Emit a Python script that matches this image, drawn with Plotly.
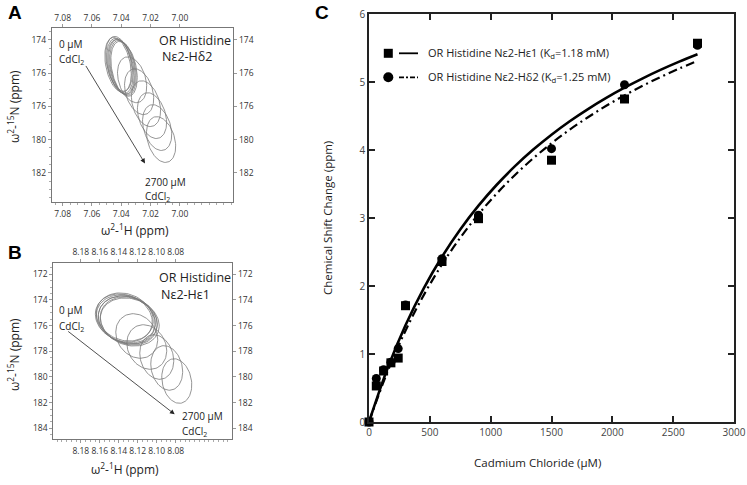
import numpy as np
import plotly.graph_objects as go

W, H = 747, 485
OFF = 0

# ---------------- Panel C data ----------------
conc = [0, 60, 120, 180, 240, 300, 600, 900, 1500, 2100, 2700]
he1_shift = [0, 0.53, 0.75, 0.87, 0.94, 1.71, 2.36, 2.99, 3.85, 4.75, 5.57]
hd2_shift = [0, 0.64, 0.77, 0.88, 1.08, 1.72, 2.40, 3.04, 4.02, 4.96, 5.54]

fit_x = [0, 150, 300, 450, 600, 750, 900, 1050, 1200, 1350, 1500, 1650, 1800, 1950, 2100, 2250, 2400, 2550, 2700]
fit_he1 = [0, 0.778, 1.423, 1.966, 2.430, 2.831, 3.181, 3.489, 3.762, 4.006, 4.225, 4.423, 4.602, 4.766, 4.916, 5.054, 5.181, 5.299, 5.408]
fit_hd2 = [0, 0.730, 1.343, 1.866, 2.317, 2.709, 3.055, 3.360, 3.633, 3.878, 4.099, 4.300, 4.482, 4.650, 4.803, 4.945, 5.076, 5.197, 5.310]

legend_labels = ["OR Histidine N\u03b52-H\u03b51 (K<sub>d</sub>=1.18 mM)",
                 "OR Histidine N\u03b52-H\u03b42 (K<sub>d</sub>=1.25 mM)"]

# ---------------- Panel A data (N\u03b52-H\u03b42 peak contours) ----------------
A_H = [7.0422, 7.0409, 7.0402, 7.0395, 7.0388, 7.0415, 7.0381,
       7.0326, 7.0278, 7.0231, 7.0190, 7.0155, 7.0128]
A_N = [175.50, 175.56, 175.62, 175.62, 175.68, 175.44, 175.74,
       176.40, 177.12, 177.84, 178.56, 179.28, 180.00]
A_aH = [0.0085] * 7 + [0.0095] * 6
A_aN = [1.65] * 7 + [1.38] * 6
A_x_ticks = [7.08, 7.06, 7.04, 7.02, 7.00]
A_y_ticks = [174, 176, 178, 180, 182]
A_y_text = ["174", "176", "176", "180", "182"]

# ---------------- Panel B data (N\u03b52-H\u03b51 peak contours) ----------------
B_H = [8.1347, 8.1326, 8.1316, 8.1305, 8.1295, 8.1284, 8.1337,
       8.1211, 8.1105, 8.1000, 8.0895, 8.0789]
B_N = [175.41, 175.48, 175.56, 175.56, 175.64, 175.72, 175.33,
       176.81, 177.67, 178.45, 179.30, 180.32]
B_aH = [0.030, 0.031, 0.030, 0.031, 0.030, 0.031, 0.030,
        0.0221, 0.0210, 0.0179, 0.0168, 0.0158]
B_aN = [1.85] * 7 + [1.71] * 5
B_x_ticks = [8.18, 8.16, 8.14, 8.12, 8.10, 8.08]
B_y_ticks = [172, 174, 176, 178, 180, 182, 184]

FONT = "Open Sans"


def px(x, y):
    return (x - OFF) / W, 1 - (y - OFF) / H


def dx(a, b):
    return [(a - OFF) / W, (b - OFF) / W]


def dy(top, bottom):
    return [1 - (bottom - OFF) / H, 1 - (top - OFF) / H]


fig = go.Figure()

t = np.linspace(0, 2 * np.pi, 90)


def add_ellipses(Hc, Nc, aH, aN, sH, sN, xa, ya):
    for h, n, a, b in zip(Hc, Nc, aH, aN):
        fig.add_trace(go.Scatter(
            x=h + a * np.cos(t) + sH * np.sin(t),
            y=n + b * np.sin(t) + sN * np.cos(t),
            mode="lines", line=dict(color="#7a7a7a", width=0.8),
            xaxis=xa, yaxis=ya, showlegend=False, hoverinfo="skip"))


add_ellipses(A_H, A_N, A_aH, A_aN, -0.003, 0.0, "x", "y")
add_ellipses(B_H, B_N, B_aH, B_aN, 0.0, -0.3, "x3", "y3")

# invisible traces to activate mirrored label axes
fig.add_trace(go.Scatter(x=[A_H[0]], y=[A_N[0]], xaxis="x2", yaxis="y2", mode="markers",
                         marker=dict(opacity=0), showlegend=False, hoverinfo="skip"))
fig.add_trace(go.Scatter(x=[B_H[0]], y=[B_N[0]], xaxis="x4", yaxis="y4", mode="markers",
                         marker=dict(opacity=0), showlegend=False, hoverinfo="skip"))

# Panel C fits
fig.add_trace(go.Scatter(x=fit_x, y=fit_he1, mode="lines", line=dict(color="black", width=2.6, shape="spline"),
                         xaxis="x5", yaxis="y5", showlegend=False, hoverinfo="skip"))
fig.add_trace(go.Scatter(x=fit_x, y=fit_hd2, mode="lines",
                         line=dict(color="black", width=2.2, dash="9px,4px,2px,4px", shape="spline"),
                         xaxis="x5", yaxis="y5", showlegend=False, hoverinfo="skip"))
fig.add_trace(go.Scatter(x=conc, y=hd2_shift, mode="markers", marker=dict(symbol="circle", size=9, color="black"),
                         xaxis="x5", yaxis="y5", showlegend=False, cliponaxis=False))
fig.add_trace(go.Scatter(x=conc, y=he1_shift, mode="markers", marker=dict(symbol="square", size=9, color="black"),
                         xaxis="x5", yaxis="y5", showlegend=False, cliponaxis=False))

nmr_tick = dict(size=8.5, color="#333", family=FONT)
common_nmr = dict(showgrid=False, zeroline=False, ticks="outside", ticklen=3, tickcolor="#999",
                  tickfont=nmr_tick, fixedrange=True, automargin=False, tickangle=0)

A_xr = [7.0875, 6.9635]
A_yr = [183.78, 173.3]
A_xd = dx(51.7, 233.3)
A_yd = dy(28.3, 202.3)
B_xr = [8.209, 8.0204]
B_yr = [184.86, 171.1]
B_xd = dx(53.3, 232.3)
B_yd = dy(262.7, 439.3)

fig.update_layout(
    xaxis=dict(domain=A_xd, range=A_xr, anchor="y", tickvals=A_x_ticks, ticktext=[f"{v:.2f}" for v in A_x_ticks],
               showline=True, linecolor="#777", linewidth=1, mirror=True,
               minor=dict(ticks="outside", ticklen=2, tickcolor="#aaa", dtick=0.005), **common_nmr),
    yaxis=dict(domain=A_yd, range=A_yr, anchor="x", tickvals=A_y_ticks, ticktext=A_y_text,
               showline=True, linecolor="#777", linewidth=1, mirror=True,
               minor=dict(ticks="outside", ticklen=2, tickcolor="#aaa", dtick=0.5), **common_nmr),
    xaxis2=dict(range=A_xr, overlaying="x", anchor="y", side="top", tickvals=A_x_ticks,
                ticktext=[f"{v:.2f}" for v in A_x_ticks], showline=False, **common_nmr),
    yaxis2=dict(range=A_yr, overlaying="y", anchor="x", side="right", tickvals=A_y_ticks,
                ticktext=A_y_text, showline=False, **common_nmr),
    xaxis3=dict(domain=B_xd, range=B_xr, anchor="y3", tickvals=B_x_ticks, ticktext=[f"{v:.2f}" for v in B_x_ticks],
                showline=True, linecolor="#777", linewidth=1, mirror=True,
                minor=dict(ticks="outside", ticklen=2, tickcolor="#aaa", dtick=0.005), **common_nmr),
    yaxis3=dict(domain=B_yd, range=B_yr, anchor="x3", tickvals=B_y_ticks, ticktext=[str(v) for v in B_y_ticks],
                showline=True, linecolor="#777", linewidth=1, mirror=True,
                minor=dict(ticks="outside", ticklen=2, tickcolor="#aaa", dtick=0.5), **common_nmr),
    xaxis4=dict(range=B_xr, overlaying="x3", anchor="y3", side="top", tickvals=B_x_ticks,
                ticktext=[f"{v:.2f}" for v in B_x_ticks], showline=False, **common_nmr),
    yaxis4=dict(range=B_yr, overlaying="y3", anchor="x3", side="right", tickvals=B_y_ticks,
                ticktext=[str(v) for v in B_y_ticks], showline=False, **common_nmr),
    xaxis5=dict(domain=dx(369, 734), range=[0, 3000], anchor="y5", dtick=500, ticks="inside", ticklen=6,
                tickcolor="#222", tickwidth=1.5, showline=True, linecolor="#222", linewidth=1.6, mirror="ticks",
                showgrid=False, zeroline=False, tickfont=dict(size=10, color="#444", family=FONT),
                fixedrange=True, automargin=False),
    yaxis5=dict(domain=dy(14, 422), range=[0, 6], anchor="x5", dtick=1, ticks="inside", ticklen=6,
                tickcolor="#222", tickwidth=1.5, showline=True, linecolor="#222", linewidth=1.6, mirror="ticks",
                showgrid=False, zeroline=False, tickfont=dict(size=10, color="#444", family=FONT),
                fixedrange=True, automargin=False),
)

ann = []


def text(x, y, s, size=11, xanchor="left", color="#222", angle=0, bold=False, family=FONT):
    xx, yy = px(x, y)
    ann.append(dict(x=xx, y=yy, xref="paper", yref="paper", text=f"<b>{s}</b>" if bold else s,
                    showarrow=False, xanchor=xanchor, yanchor="middle", textangle=angle,
                    font=dict(size=size, color=color, family=family)))


# Panel labels
text(6, 12, "A", size=19, bold=True, family="Liberation Sans", color="black")
text(6, 252, "B", size=19, bold=True, family="Liberation Sans", color="black")
text(313, 12, "C", size=19, bold=True, family="Liberation Sans", color="black")

# Panel A texts
text(157, 40, "OR Histidine", size=12.5)
text(160, 56, "N\u03b52-H\u03b42", size=12.5)
text(57, 44, "0 \u00b5M", size=10)
text(57, 59, "CdCl<sub>2</sub>", size=10)
text(143, 182, "2700 \u00b5M", size=10)
text(143, 196, "CdCl<sub>2</sub>", size=10)
text(135, 230, "\u03c9<sup>2</sup>-<sup>1</sup>H (ppm)", size=12, xanchor="center")
text(14, 107, "\u03c9<sup>2</sup>-<sup>15</sup>N (ppm)", size=12, xanchor="center", angle=-90)

# Panel B texts
text(157, 277, "OR Histidine", size=12.5)
text(159, 294, "N\u03b52-H\u03b51", size=12.5)
text(57, 310, "0 \u00b5M", size=10)
text(57, 326, "CdCl<sub>2</sub>", size=10)
text(180, 416, "2700 \u00b5M", size=10)
text(180, 431, "CdCl<sub>2</sub>", size=10)
text(125, 469, "\u03c9<sup>2</sup>-<sup>1</sup>H (ppm)", size=12, xanchor="center")
text(14, 355, "\u03c9<sup>2</sup>-<sup>15</sup>N (ppm)", size=12, xanchor="center", angle=-90)

# Panel C titles
text(537, 462, "Cadmium Chloride (\u00b5M)", size=11.5, xanchor="center")
text(328, 218, "Chemical Shift Change (ppm)", size=11.5, xanchor="center", angle=-90)

# Legend text
text(426, 53, legend_labels[0], size=11)
text(426, 77, legend_labels[1], size=11)

# Arrows in panels A and B
ann.append(dict(x=7.0238, y=181.44, xref="x", yref="y", ax=-60, ay=-99, axref="pixel", ayref="pixel",
                showarrow=True, arrowhead=2, arrowsize=1.2, arrowwidth=0.8, arrowcolor="#222", text=""))
ann.append(dict(x=8.0811, y=182.91, xref="x3", yref="y3", ax=-108, ay=-84, axref="pixel", ayref="pixel",
                showarrow=True, arrowhead=2, arrowsize=1.2, arrowwidth=0.8, arrowcolor="#222", text=""))

shapes = []
# Legend symbols
x0, y0 = px(383.8, 48.8)
x1, y1 = px(392.8, 57.8)
shapes.append(dict(type="rect", xref="paper", yref="paper", x0=x0, x1=x1, y0=y0, y1=y1,
                   fillcolor="black", line=dict(width=0)))
x0, y0 = px(383.3, 72.3)
x1, y1 = px(393.3, 82.3)
shapes.append(dict(type="circle", xref="paper", yref="paper", x0=x0, x1=x1, y0=y0, y1=y1,
                   fillcolor="black", line=dict(width=0)))
x0, y0 = px(399, 53.3)
x1, _ = px(418, 53.3)
shapes.append(dict(type="line", xref="paper", yref="paper", x0=x0, x1=x1, y0=y0, y1=y0,
                   line=dict(color="black", width=1.8)))
x0, y0 = px(399, 77.3)
x1, _ = px(418, 77.3)
shapes.append(dict(type="line", xref="paper", yref="paper", x0=x0, x1=x1, y0=y0, y1=y0,
                   line=dict(color="black", width=1.8, dash="5px,2px,2px,2px")))

fig.update_layout(
    width=W, height=H, margin=dict(l=0, r=0, t=0, b=0),
    paper_bgcolor="white", plot_bgcolor="white", showlegend=False,
    annotations=ann, shapes=shapes, font=dict(family=FONT),
)

fig.write_html("out.html", config={"displayModeBar": False},
               post_script="document.body.style.margin='0';document.body.style.overflow='hidden';")
